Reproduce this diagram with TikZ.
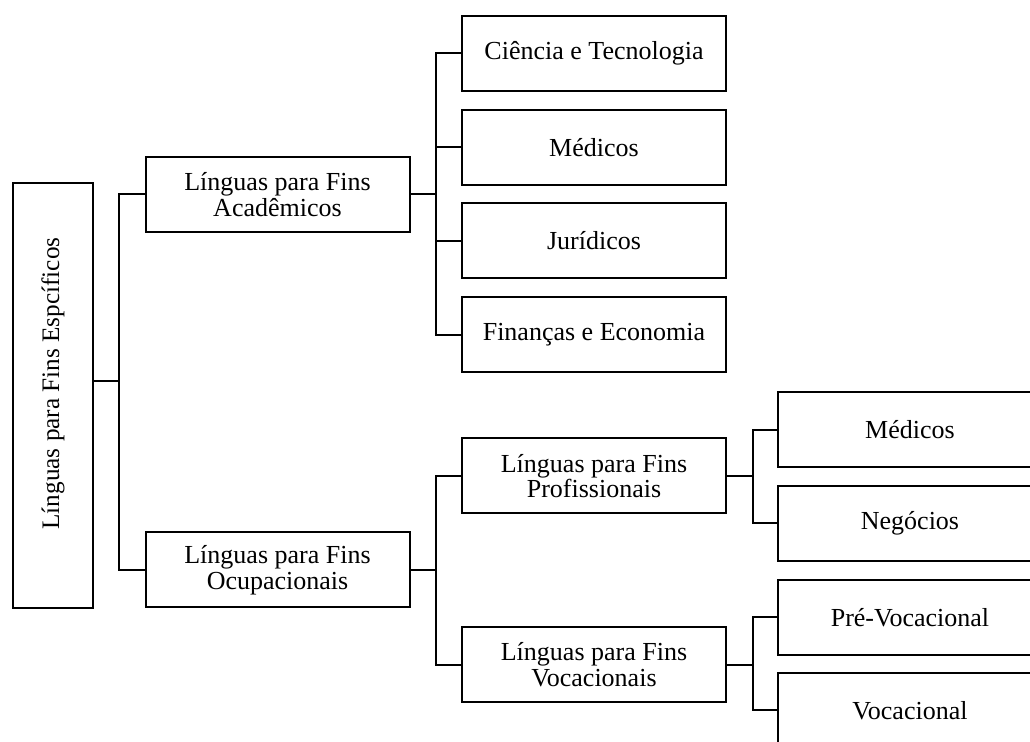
\documentclass[tikz,border=0pt]{standalone}
\usepackage{fontspec}
\setmainfont{Liberation Serif}
\usetikzlibrary{positioning,calc}

\begin{document}
\begin{tikzpicture}[x=0.5pt,y=-0.5pt,line width=1pt,
	box/.style={draw,line width=1pt,minimum width=132pt,minimum height=37.5pt,
		inner sep=2pt,align=center,font=\fontsize{13}{12.9}\selectfont},
	rootbox/.style={draw,line width=1pt,minimum width=40pt,minimum height=212.5pt,
		inner sep=0pt,font=\fontsize{12.6}{12.9}\selectfont}]
	\useasboundingbox (0,0) rectangle (1030,742);
	\clip (0,0) rectangle (1030,742);
	% levels
	\node[rootbox] (root) at (53, 395.5) {\rotatebox{90}{\hspace*{12pt}Línguas para Fins Espcíficos}};
	\node[box] (acad) at (277.5, 194.5) {Línguas para Fins\\Acadêmicos};
	\node[box] (ocup) at (277.5, 570) {Línguas para Fins\\Ocupacionais};
	\node[box] (cien) at (594, 53.5) {Ciência e Tecnologia};
	\node[box] (med) at (594, 147.5) {Médicos};
	\node[box] (jur) at (594, 241) {Jurídicos};
	\node[box] (fin) at (594, 335) {Finanças e Economia};
	\node[box] (prof) at (594, 476) {Línguas para Fins\\Profissionais};
	\node[box] (voc) at (594, 665) {Línguas para Fins\\Vocacionais};
	\node[box] (medp) at (910, 430) {Médicos};
	\node[box] (neg) at (910, 523.5) {Negócios};
	\node[box] (pre) at (910, 617.5) {Pré-Vocacional};
	\node[box] (vocl) at (910, 710.5) {Vocacional};
	% spines
	\coordinate (s0) at (119, 381);
	\coordinate (s1) at (436, 194.5);
	\coordinate (s2) at (436, 570);
	\coordinate (s3) at (753, 476);
	\coordinate (s4) at (753, 665);
	\draw (root.east |- s0) -- (s0);
	\draw (acad.west) -| (s0) |- (ocup.west);
	\draw (acad.east) -- (s1);
	\draw (cien.west) -| (s1) |- (fin.west);
	\draw (med.west) -- (med.west -| s1);
	\draw (jur.west) -- (jur.west -| s1);
	\draw (ocup.east) -- (s2);
	\draw (prof.west) -| (s2) |- (voc.west);
	\draw (prof.east) -- (s3);
	\draw (medp.west) -| (s3) |- (neg.west);
	\draw (voc.east) -- (s4);
	\draw (pre.west) -| (s4) |- (vocl.west);
\end{tikzpicture}
\end{document}
